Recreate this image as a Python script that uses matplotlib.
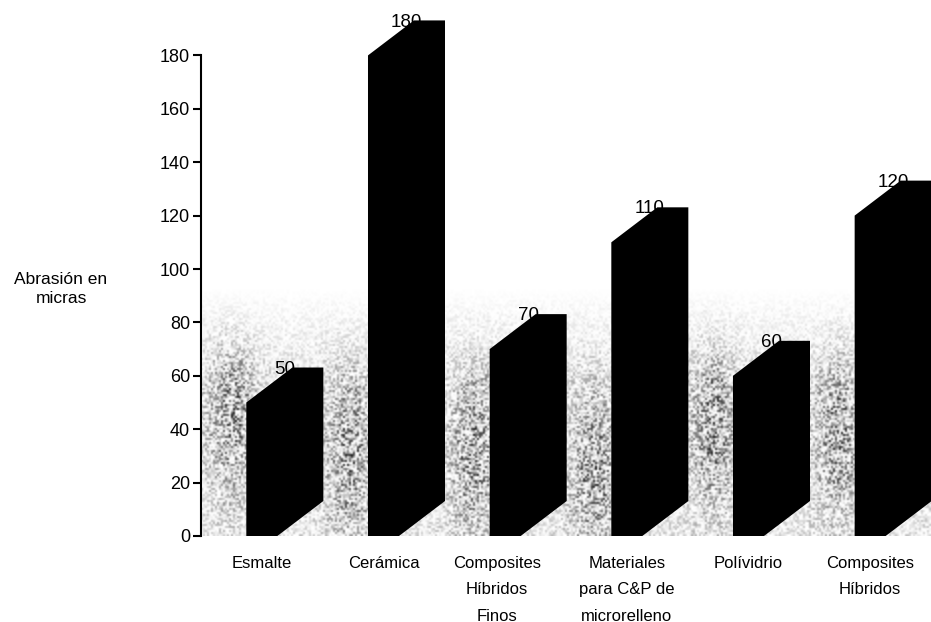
import numpy as np
import matplotlib
matplotlib.use('Agg')
import matplotlib.pyplot as plt

plt.rcParams['font.family'] = ['Liberation Sans', 'DejaVu Sans']

categories = ['Esmalte', 'Cerámica', 'Composites\nHíbridos\nFinos',
              'Materiales\npara C&P de\nmicrorelleno', 'Polívidrio',
              'Composites\nHíbridos']
values = [50, 180, 70, 110, 60, 120]
yticks = [0, 20, 40, 60, 80, 100, 120, 140, 160, 180]

W, H = 931, 622
LEFT, BASE, TOP = 201, 536, 2
bar_w = 0.255
depth_x, depth_y = 0.378, 13.1

fig = plt.figure(figsize=(W / 100, H / 100), dpi=100)
ax = fig.add_axes([LEFT / W, (H - BASE) / H, (W - LEFT) / W, (BASE - TOP) / H])

# scanned paper texture behind the bars, decoration only, not chart data
rng = np.random.RandomState(7)
h, w = (BASE - TOP) // 2, (W - LEFT) // 2
xx, yy = np.meshgrid(np.arange(w) * 2, np.arange(h) * 2)
ramp = np.clip((yy - 285) / 90, 0, 1)
blotch = np.zeros((h, w))
for cx, cy in [(30, 410), (148, 450), (272, 450), (392, 470), (512, 420), (636, 430)]:
    blotch += np.exp(-((xx - cx) / 24.0) ** 2 - ((yy - cy) / 85.0) ** 2)
noise = rng.rand(h, w) ** 2
img = 1 - ramp * (0.16 + 0.42 * blotch) * noise * 1.6
ax.imshow(np.clip(img, 0, 1), cmap='gray', vmin=0, vmax=1, extent=(0, 1, 0, 1),
          aspect='auto', transform=ax.transAxes, interpolation='bilinear', zorder=0)
ax.set_xlim(0, 6)
ax.set_ylim(0, 200)

centers = np.arange(len(values)) + 0.5
label_shift = [0, 0, -0.07, 0, 0, 0]

# value labels go under the bars, the bar tops cut them off like in the original
for c, v in zip(centers, values):
    ax.text(c + 0.19, v + 12.5, str(v), ha='center', va='center', fontsize=13.5,
            color='black', zorder=2)

for c, v in zip(centers, values):
    l, r = c - bar_w / 2, c + bar_w / 2
    ax.fill([l, r, r + depth_x, r + depth_x, l + depth_x, l],
            [0, 0, depth_y, v + depth_y, v + depth_y, v],
            color='black', lw=0, zorder=3)

for c, s, name in zip(centers, label_shift, categories):
    ax.annotate(name, (c + s, 0), xytext=(0, -20), textcoords='offset pixels',
                ha='center', va='top', fontsize=12, linespacing=1.95,
                annotation_clip=False)

ax.set_yticks(yticks)
ax.set_xticks([])
ax.tick_params(axis='y', length=6, width=1.5, labelsize=13, pad=2, direction='out')

for s in ['top', 'right', 'bottom']:
    ax.spines[s].set_visible(False)
ax.spines['left'].set_linewidth(1.5)
ax.spines['left'].set_bounds(0, 180)

fig.text(61 / W, 1 - 289 / H, 'Abrasión en\nmicras', ha='center', va='center',
         fontsize=12.5, linespacing=1.35)

fig.savefig('out.png', dpi=100)
